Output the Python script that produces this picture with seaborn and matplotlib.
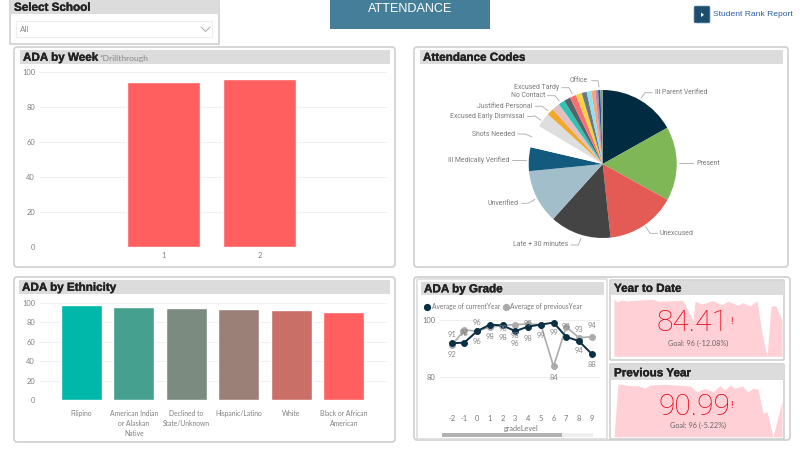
import matplotlib
matplotlib.use("Agg")
import matplotlib.pyplot as plt
import matplotlib.patheffects as pe
from matplotlib.patches import FancyBboxPatch, Rectangle, Polygon
import seaborn as sns

W, H = 800, 449

# data
week_labels = ["1", "2"]
week_values = [94.5, 96]

ethnicity_labels = ["Filipino", "American Indian\nor Alaskan\nNative", "Declined to\nState/Unknown",
                    "Hispanic/Latino", "White", "Black or African\nAmerican"]
ethnicity_values = [97.5, 96, 94.5, 93.5, 92.5, 91]
ethnicity_colors = ["#00B8AA", "#45A090", "#7B8B80", "#9B8078", "#C96F68", "#FF5F5E"]

code_names = ["Ill Parent Verified", "Present", "Unexcused", "Late + 30 minutes", "Unverified",
              "Ill Medically Verified", "Shots Needed", "Excused Early Dismissal", "a", "Justified Personal",
              "b", "No Contact", "Excused Tardy", "c", "d", "e", "f", "g", "h", "Office"]
code_shares = [16.9, 16.2, 15.3, 13.4, 11.8, 5.2, 4.9, 3.2, 1.5, 1.7, 1.4, 1.4, 1.4, 1.3, 1.1, 1.0, 0.9, 0.6, 0.5, 0.5]
code_colors = ["#012B40", "#7FB656", "#E45A55", "#444444", "#A3BECB", "#125B7E", "#FFFFFF", "#DEDEDE",
               "#F0A92C", "#E3BFC4", "#2EC4B4", "#55666B", "#FA7070", "#F7D24A", "#6C7A80", "#90DEF7",
               "#F8A47A", "#BB86B0", "#1A5C8A", "#8A9A8A"]

grades = [-2, -1, 0, 1, 2, 3, 4, 5, 6, 7, 8, 9]
current_year = [91.7, 92, 96, 98.3, 98, 96, 97.6, 98.3, 99, 94, 92.5, 88]
previous_year = [91, 96.4, 96, 97.4, 98, 98.3, 98.5, 98.3, 83.6, 97.5, 93.7, 94]
current_labels = ["92", "92", "96", "98", "98", "96", "98", "99", "99", "", "94", "88"]
previous_labels = ["91", "96", "96", "", "98", "98", "99", "", "84", "98", "93", "94"]

ytd_x = [4, 7, 12, 17, 30, 43, 48, 73, 83, 85, 92, 103, 112, 118, 128, 133, 140, 147, 152, 157, 161, 166, 172]
ytd_y = [100, 95.3, 98.8, 97, 98.8, 100, 96.5, 98.2, 63, 96.5, 91.8, 97.7, 90.6, 96.5, 89.5, 94.2, 88.3, 97.7,
         39.8, 0, 88.3, 88.3, 63]
prev_x = [4, 8, 20, 28, 35, 40, 55, 80, 87, 95, 103, 110, 115, 120, 125, 132, 138, 143, 148, 153, 157, 163, 172]
prev_y = [0, 98.8, 95.6, 95.6, 90.6, 96.9, 98, 95, 84.4, 90.6, 84.4, 95.6, 87.5, 96.9, 90.6, 95, 84.4, 90.6,
          89.4, 43.8, 46.9, 0, 66.9]

sns.set_theme(style="white")
plt.rcParams["font.family"] = ["Lato", "DejaVu Sans"]
plt.rcParams["axes.unicode_minus"] = False

fig = plt.figure(figsize=(W / 100, H / 100), dpi=100, facecolor="white")


def px_axes(x0, y0, x1, y1, zorder=1):
    # axes placed by picture pixels, y counted from the top
    a = fig.add_axes([x0 / W, 1 - y1 / H, (x1 - x0) / W, (y1 - y0) / H], zorder=zorder)
    a.patch.set_alpha(0)
    return a


bg = px_axes(0, 0, W, H, zorder=0)
bg.set_xlim(0, W)
bg.set_ylim(H, 0)
bg.axis("off")
fg = px_axes(0, 0, W, H, zorder=5)
fg.set_xlim(0, W)
fg.set_ylim(H, 0)
fg.axis("off")


def panel(x0, y0, x1, y1, rad=3, ec="#CFCFCF"):
    bg.add_patch(FancyBboxPatch((x0 + rad, y0 + rad), x1 - x0 - 2 * rad, y1 - y0 - 2 * rad,
                                boxstyle=f"round,pad={rad},rounding_size={rad}", fc="white", ec=ec, lw=1.2))


def header(x0, y0, x1, y1, title):
    bg.add_patch(Rectangle((x0, y0), x1 - x0, y1 - y0, fc="#DCDCDC", ec="none", zorder=3))
    t = bg.text(x0 + 3, (y0 + y1) / 2 + 0.8, title, fontsize=8.4, fontweight="bold", color="#222222", ha="left",
                va="center", family=["Liberation Sans"], zorder=4)
    t.set_path_effects([pe.withStroke(linewidth=0.25, foreground="#222222")])


# frames and headers
bg.add_patch(Rectangle((10, -2), 209, 46, fc="white", ec="#CFCFCF", lw=1.2))
header(11, 0, 219, 14, "Select School")
bg.add_patch(Rectangle((16, 21), 196, 16, fc="white", ec="#EEEEEE", lw=0.8, zorder=3))
bg.text(20, 29.5, "All", fontsize=5.8, color="#888888", va="center", zorder=4)
bg.plot([201, 205.5, 210], [27, 31.5, 27], color="#AAAAAA", lw=0.7, zorder=4)

bg.add_patch(Rectangle((330, 0), 160, 29, fc="#457E98", ec="none"))
bg.text(410, 9.5, "ATTENDANCE", fontsize=9.1, color="white", ha="center", va="center", family=["Liberation Sans"])

bg.add_patch(FancyBboxPatch((695, 7), 14, 15, boxstyle="round,pad=0.8,rounding_size=1.5", fc="#1E4E6E", ec="#3A6A88", lw=0.6))
bg.add_patch(Polygon([(701, 12.5), (704, 14.8), (701, 17)], fc="white", ec="none", zorder=4))
bg.text(713, 15, "Student Rank Report", fontsize=6.1, color="#2A5CAA", va="center", family=["Liberation Sans"])

panel(14, 47, 395, 267)
header(20, 50, 390, 64, "ADA by Week")
bg.text(99, 59, "*Drillthrough", fontsize=6.1, color="#888888", va="center", zorder=4)
panel(414, 47, 788, 267)
header(420, 50, 783, 64, "Attendance Codes")
panel(14, 277, 395, 442)
header(19, 280, 390, 294, "ADA by Ethnicity")
panel(414, 277, 790, 440)
panel(417, 279, 607, 439, rad=1, ec="#DDDDDD")
header(421, 282, 604, 295, "ADA by Grade")
panel(610, 280, 784, 360, rad=1)
header(611, 281, 784, 295, "Year to Date")
panel(610, 364, 784, 439, rad=1)
header(611, 365, 784, 380, "Previous Year")


def style_bars(a):
    a.set_xlabel("")
    a.set_ylabel("")
    a.set_ylim(0, 100)
    a.set_yticks([0, 20, 40, 60, 80, 100])
    a.grid(axis="y", color="#F0F0F0", lw=0.8)
    a.grid(axis="x", visible=False)
    a.set_axisbelow(True)
    a.tick_params(axis="both", length=0, labelsize=5.4, labelcolor="#808080")
    sns.despine(ax=a, left=True, bottom=True)


# ADA by week
ax_week = px_axes(40, 72, 387, 247)
sns.barplot(x=week_labels, y=week_values, color="#FF5F5E", saturation=1, width=0.76, ax=ax_week)
style_bars(ax_week)
ax_week.set_xlim(-1.29, 2.33)

# ADA by ethnicity
ax_eth = px_axes(40, 303, 387, 400)
sns.barplot(x=ethnicity_labels, y=ethnicity_values, hue=ethnicity_labels, palette=ethnicity_colors, saturation=1,
            width=0.78, legend=False, ax=ax_eth)
style_bars(ax_eth)
ax_eth.set_xlim(-0.79, 5.82)
ax_eth.tick_params(axis="x", pad=7, labelsize=4.9)
for t in ax_eth.get_xticklabels():
    t.set_linespacing(1.5)

# attendance codes pie
ax_pie = px_axes(602.7 - 74, 164 - 74, 602.7 + 74, 164 + 74)
ax_pie.pie(code_shares, colors=code_colors, startangle=90, counterclock=False, radius=1,
           wedgeprops={"linewidth": 0})
ax_pie.set_xlim(-1, 1)
ax_pie.set_ylim(-1, 1)

pie_labels = [
    ("Office", 587.7, 81, "right", [(591.7, 80.7), (598, 80.7), (599, 87)]),
    ("Excused Tardy", 559.3, 87.7, "right", [(561.7, 87.7), (569, 87.7), (572.3, 94)]),
    ("No Contact", 545, 95.7, "right", [(547.3, 95.7), (555, 95.7), (559.3, 101)]),
    ("Justified Personal", 532.3, 106.3, "right", [(535, 106.3), (542.3, 106.3), (547.7, 110.7)]),
    ("Excused Early Dismissal", 524, 116.7, "right", [(527.3, 116.7), (535, 116), (541, 120.3)]),
    ("Shots Needed", 514.7, 134, "right", [(517.7, 134), (525, 134), (531.7, 136.7)]),
    ("Ill Medically Verified", 509, 159.7, "right", [(512.3, 159.7), (525.7, 159.7)]),
    ("Unverified", 518.3, 203.3, "right", [(521.7, 203.3), (528.3, 203.3), (535, 199.3)]),
    ("Late + 30 minutes", 567.7, 245, "right", [(571, 245), (578.3, 245), (581, 238.3)]),
    ("Unexcused", 660, 233.3, "left", [(645.7, 226.7), (650, 233.3), (657.3, 233.3)]),
    ("Present", 696, 163.3, "left", [(679.3, 163.3), (693.3, 163.3)]),
    ("Ill Parent Verified", 655, 92.7, "left", [(641, 98.3), (645, 92.7), (652.3, 92.7)]),
]
for text, tx, ty, ha, line in pie_labels:
    bg.text(tx, ty, text, fontsize=4.95, color="#7A7A7A", ha=ha, va="center", family=["Roboto"], zorder=4)
    bg.plot([p[0] for p in line], [p[1] for p in line], color="#AAAAAA", lw=0.6, zorder=4)

# ADA by grade
ax_grade = px_axes(440, 315, 600, 408, zorder=2)
sns.lineplot(x=grades, y=previous_year, color="#ABABAB", lw=1.2, marker="o", ms=4.2, mec="#ABABAB", ax=ax_grade)
sns.lineplot(x=grades, y=current_year, color="#0B2F45", lw=1.4, marker="o", ms=4.2, mec="#0B2F45", ax=ax_grade)
ax_grade.set_xlim(-2 - 11.7 / 12.73, 9 + 8.3 / 12.73)
ax_grade.set_ylim(100 - 93 / 3, 100 + 5 / 3)
ax_grade.set_yticks([80, 100])
ax_grade.set_xticks(grades)
ax_grade.grid(axis="y", color="#F0F0F0", lw=0.8)
ax_grade.grid(axis="x", visible=False)
ax_grade.tick_params(axis="both", length=0, labelsize=5.4, labelcolor="#777777")
ax_grade.tick_params(axis="x", pad=5)
ax_grade.tick_params(axis="y", pad=3)
ax_grade.set_xlabel("gradeLevel", fontsize=5.2, color="#777777", labelpad=1)
ax_grade.xaxis.set_label_coords(0.51, -0.18)
ax_grade.set_ylabel("")
sns.despine(ax=ax_grade, left=True, bottom=True)

current_off = [-11, 10, -10, -12, -12, -12, -12, -11, -10, 0, -9, -11]
previous_off = [11, -4, 9, 0, -3, -11, 1, 0, -11, 0, 8, 11]
for g, v, s, dy in zip(grades, current_year, current_labels, current_off):
    ax_grade.annotate(s, (g, v), xytext=(0, dy * 0.72), textcoords="offset points", ha="center", va="center",
                      fontsize=5.4, color="#888888")
for g, v, s, dy in zip(grades, previous_year, previous_labels, previous_off):
    ax_grade.annotate(s, (g, v), xytext=(0, dy * 0.72), textcoords="offset points", ha="center", va="center",
                      fontsize=5.4, color="#888888")

fg.plot([427], [306.7], "o", color="#0B2F45", ms=4.2)
fg.text(431.5, 306.7, "Average of currentYear", fontsize=4.75, color="#777777", va="center")
fg.plot([505.5], [306.7], "o", color="#ABABAB", ms=4.2)
fg.text(509.5, 306.7, "Average of previousYear", fontsize=4.75, color="#777777", va="center")

fg.add_patch(Rectangle((442, 433), 151, 4, fc="#EFEFEF", ec="none"))
fg.add_patch(Rectangle((442, 433), 120, 4, fc="#B2B2B2", ec="none"))

# KPI cards
ax_ytd = px_axes(614, 299.3, 782, 356.3)
ax_ytd.fill_between(ytd_x, ytd_y, 0, color="#FFD0D5", lw=0)
ax_prev = px_axes(614, 383.3, 782, 436.7)
ax_prev.fill_between(prev_x, prev_y, 0, color="#FFD0D5", lw=0)
for a in (ax_ytd, ax_prev):
    a.set_xlim(4, 172)
    a.set_ylim(0, 100)
    a.axis("off")

kpis = [("84.41", "Goal: 96 (-12.08%)", 692.5, 323, 343, 732), ("90.99", "Goal: 96 (-5.22%)", 694, 407, 425.7, 732)]
for value, goal, cx, vy, gy, bx in kpis:
    fg.text(cx, vy, value, fontsize=21.5, color="#E60012", ha="center", va="center", family=["Roboto"],
            fontweight="light")
    fg.text(698, gy, goal, fontsize=5.2, color="#666666", ha="center", va="center")
    fg.text(bx, vy - 1, "!", fontsize=7, color="#E60012", ha="center", va="center")

fig.savefig("out.png", dpi=100)
